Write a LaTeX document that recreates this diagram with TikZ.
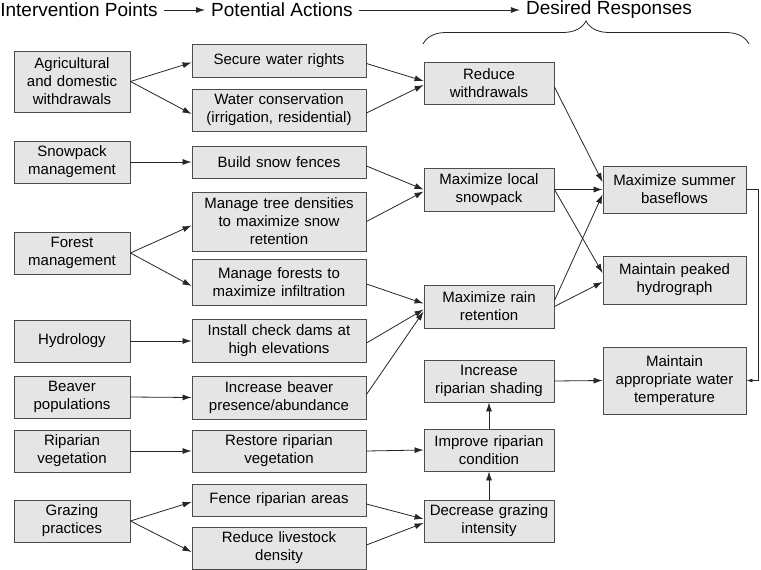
\documentclass[tikz,border=0pt]{standalone}
\usepackage{fontspec}
\setmainfont{Liberation Sans}
\usetikzlibrary{arrows.meta,decorations.pathreplacing}
\begin{document}
\begin{tikzpicture}[x=1pt,y=-1pt,
  box/.style={draw=black!70, fill=black!10, line width=0.9pt, align=center, inner sep=0pt, font=\fontsize{15}{18}\selectfont},
  c1/.style={box, minimum width=116pt, text width=112pt},
  c2/.style={box, minimum width=174pt, text width=170pt},
  c3/.style={box, minimum width=130pt, text width=126pt},
  c4/.style={box, minimum width=143pt, text width=139pt},
  arr/.style={-{Latex[length=9pt,width=6pt]}, line width=0.8pt, draw=black!85},
  hdr/.style={font=\fontsize{19}{22}\selectfont, inner sep=0pt}]
\useasboundingbox (0,0) rectangle (761,570);

% headers
\node[hdr] (h1) at (79,10) {Intervention Points};
\node[hdr] (h2) at (282,10) {Potential Actions};
\node[hdr] (h3) at (609,10) {Desired Responses};
\draw[arr] (h1.east) ++(6,0) coordinate (h1a) -- ([xshift=-6pt]h2.west);
\draw[arr] (h2.east) ++(6,0) coordinate (h2a) -- ([xshift=-6pt]h3.west);
\coordinate (bl) at (423,44);
\coordinate (br) at (749,44);
\draw[line width=0.8pt, draw=black!85, decorate, decoration={brace, amplitude=23pt}] (bl) -- (br);

% column 1
\node[c1, minimum height=61pt] (agri) at (72,81.5) {Agricultural\\and domestic\\withdrawals};
\node[c1, minimum height=42pt] (snow) at (72,162) {Snowpack\\management};
\node[c1, minimum height=42pt] (forest) at (72,253) {Forest\\management};
\node[c1, minimum height=42pt] (hydro) at (72,341) {Hydrology};
\node[c1, minimum height=42pt] (beaver) at (72,397) {Beaver\\populations};
\node[c1, minimum height=42pt] (ripveg) at (72,451) {Riparian\\vegetation};
\node[c1, minimum height=42pt] (graze) at (72,521) {Grazing\\practices};

% column 2
\node[c2, minimum height=33pt] (secure) at (279,60.5) {Secure water rights};
\node[c2, minimum height=42pt] (cons) at (279,110) {Water conservation\\(irrigation, residential)};
\node[c2, minimum height=32pt] (fences) at (279,162) {Build snow fences};
\node[c2, minimum height=59pt] (tree) at (279,221.5) {Manage tree densities\\to maximize snow\\retention};
\node[c2, minimum height=46pt] (forests) at (279,282) {Manage forests to\\maximize infiltration};
\node[c2, minimum height=43pt] (dams) at (279,341) {Install check dams at\\high elevations};
\node[c2, minimum height=43pt] (bpres) at (279,397.5) {Increase beaver\\presence/abundance};
\node[c2, minimum height=42pt] (restore) at (279,451) {Restore riparian\\vegetation};
\node[c2, minimum height=32pt] (fence) at (279,500) {Fence riparian areas};
\node[c2, minimum height=42pt] (live) at (279,548) {Reduce livestock\\density};

% column 3
\node[c3, minimum height=42pt] (reduce) at (489,83) {Reduce\\withdrawals};
\node[c3, minimum height=43pt] (msnow) at (489,189.5) {Maximize local\\snowpack};
\node[c3, minimum height=43pt] (mrain) at (489,306.5) {Maximize rain\\retention};
\node[c3, minimum height=42pt] (shade) at (489,381) {Increase\\riparian shading};
\node[c3, minimum height=42pt] (improve) at (489,450) {Improve riparian\\condition};
\node[c3, minimum height=42pt] (decr) at (489,521) {Decrease grazing\\intensity};

% column 4
\node[c4, minimum height=47pt] (summer) at (674.5,189.5) {Maximize summer\\baseflows};
\node[c4, minimum height=48pt] (peak) at (674.5,280) {Maintain peaked\\hydrograph};
\node[c4, minimum height=67pt] (temp) at (674.5,380.5) {Maintain\\appropriate water\\temperature};

% column 1 -> column 2
\draw[arr] (agri.east) -- ([yshift=-2pt]secure.west);
\draw[arr] (agri.east) -- ([yshift=-4pt]cons.west);
\draw[arr] (snow.east) -- (fences.west);
\draw[arr] (forest.east) -- ([yshift=-4pt]tree.west);
\draw[arr] (forest.east) -- ([yshift=-4pt]forests.west);
\draw[arr] (hydro.east) -- (dams.west);
\draw[arr] (beaver.east) -- (bpres.west);
\draw[arr] (ripveg.east) -- (restore.west);
\draw[arr] (graze.east) -- ([yshift=-2pt]fence.west);
\draw[arr] (graze.east) -- ([yshift=-4pt]live.west);

% column 2 -> column 3
\draw[arr] ([yshift=-3pt]secure.east) -- ([yshift=2pt]reduce.west);
\draw[arr] ([yshift=-3pt]cons.east) -- ([yshift=-2pt]reduce.west);
\draw[arr] ([yshift=-4pt]fences.east) -- (msnow.west);
\draw[arr] (tree.east) -- ([yshift=-2pt]msnow.west);
\draw[arr] ([yshift=-2pt]forests.east) -- ([yshift=3pt]mrain.west);
\draw[arr] ([yshift=-2pt]dams.east) -- ([yshift=-3pt]mrain.west);
\draw[arr] ([yshift=3pt]bpres.east) -- ([yshift=-5pt]mrain.west);
\draw[arr] (restore.east) -- (improve.west);
\draw[arr] ([yshift=-4pt]fence.east) -- ([yshift=2pt]decr.west);
\draw[arr] ([yshift=3pt]live.east) -- ([yshift=-2pt]decr.west);

% column 3 internal
\draw[arr] (decr.north) -- (improve.south);
\draw[arr] (improve.north) -- (shade.south);

% column 3 -> column 4
\draw[arr] ([yshift=-4pt]reduce.east) -- ([yshift=7.5pt]summer.west);
\draw[arr] (msnow.east) -- (summer.west);
\draw[arr] (msnow.east) -- ([yshift=7pt]peak.west);
\draw[arr] ([yshift=6pt]mrain.east) -- ([yshift=-5pt]summer.west);
\draw[arr] (mrain.east) -- ([yshift=-2pt]peak.west);
\draw[arr] (shade.east) -- (temp.west);
\coordinate (loop) at (758,189.5);
\draw[arr, -{Latex[length=6pt,width=4pt]}] (summer.east) -- (loop) |- (temp.east);
\end{tikzpicture}
\end{document}
